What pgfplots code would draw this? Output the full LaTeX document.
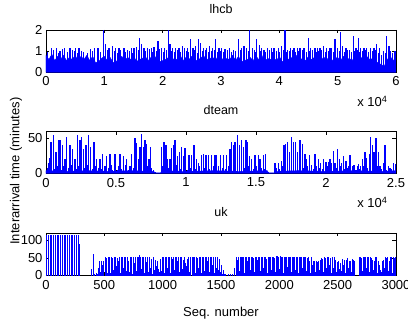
\documentclass[border=0pt]{standalone}
\usepackage{fontspec}
\setmainfont{Liberation Sans}
\usepackage{pgfplots}
\pgfplotsset{compat=1.18}
\begin{document}
\fontsize{13}{15}\selectfont
\begin{tikzpicture}
\useasboundingbox (0pt,0pt) rectangle (408pt,322pt);
\pgfplotsset{
  panel/.style={
    scale only axis, width=350pt, height=42.5pt, anchor=south west,
    xmin=0, axis line style={line width=0.6pt}, every tick/.style={black, line width=0.5pt},
    tick align=inside, major tick length=3.5pt, scaled ticks=false,
    tick label style={font=\fontsize{13}{15}\selectfont},
    yticklabel style={xshift=1pt},
    /pgf/number format/assume math mode=true,
    /pgf/number format/1000 sep={},
    title style={at={(0.5,1)}, anchor=base, yshift=10.5pt, font=\fontsize{12.5}{15}\selectfont},
    clip=true,
  },
  spk/.style={ycomb, blue, no markers},
}
% ---------------- lhcb ----------------
\begin{axis}[panel, at={(46pt,249.7pt)}, xmax=60000, ymin=0, ymax=2,
  ytick={0,1,2}, xtick={0,10000,20000,30000,40000,50000,60000},
  xticklabels={0,1,2,3,4,5,6}, title={lhcb}]
\addplot[fill=blue, draw=blue, line width=0.4pt] coordinates {
(0,0.8)(500,0.6)(1000,0.85)(1500,0.55)(2000,0.75)(2500,0.6)(3000,0.8)(3500,0.55)(4000,0.7)(4500,0.6)
(5000,0.8)(5500,0.55)(6000,0.75)(6500,0.6)(7000,0.8)(7500,0.55)(8000,0.75)(8500,0.45)(9000,0.5)(9500,0.65)
(10000,0.75)(10500,0.55)(11000,0.7)(11500,0.45)(12000,0.5)(12500,0.65)(13000,0.75)(13500,0.55)(14000,0.7)(14500,0.6)
(15000,0.8)(15500,0.5)(16000,0.6)(16500,0.65)(17000,0.75)(17500,0.55)(18000,0.7)(18500,0.6)(19000,0.8)(19500,0.5)
(20000,0.55)(20500,0.6)(21000,0.7)(21500,0.55)(22000,0.65)(22500,0.6)(23000,0.8)(23500,0.55)(24000,0.7)(24500,0.6)
(25000,0.75)(25500,0.5)(26000,0.6)(26500,0.65)(27000,0.8)(27500,0.55)(28000,0.7)(28500,0.6)(29000,0.75)(29500,0.5)
(30000,0.7)(30500,0.55)(31000,0.65)(31500,0.6)(32000,0.8)(32500,0.55)(33000,0.75)(33500,0.5)(34000,0.55)(34500,0.6)
(35000,0.7)(35500,0.55)(36000,0.75)(36500,0.6)(37000,0.8)(37500,0.5)(38000,0.65)(38500,0.6)(39000,0.7)(39500,0.55)
(40000,0.75)(40500,0.5)(41000,0.55)(41500,0.6)(42000,0.7)(42500,0.55)(43000,0.8)(43500,0.6)(44000,0.65)(44500,0.55)
(45000,0.75)(45500,0.6)(46000,0.7)(46500,0.55)(47000,0.8)(47500,0.6)(48000,0.75)(48500,0.5)(49000,0.55)(49500,0.65)
(50000,0.7)(50500,0.55)(51000,0.75)(51500,0.6)(52000,0.65)(52500,0.55)(53000,0.8)(53500,0.6)(54000,0.7)(54500,0.55)
(55000,0.75)(55500,0.6)(56000,0.65)(56500,0.5)(57000,0.45)(57500,0.35)(58000,0.3)(58500,0.6)(59000,0.75)(59500,0.55)
(60000,0.7)
} \closedcycle;
\addplot[spk, line width=1.1pt] coordinates {
(914,1.15)(1828,1.15)(2400,1.0)(3200,1.15)(4114,1.15)(4514,1.05)(5086,1.15)(5657,1.15)(6057,1.0)(7657,1.1)
(8343,1.15)(8914,1.15)(9828,2.0)(10228,1.35)(10800,1.15)(11371,1.25)(11943,1.15)(12514,1.15)(13371,1.15)(13943,1.05)
(14629,1.15)(15086,1.15)(15486,1.2)(16057,1.6)(16400,1.35)(16800,1.15)(17371,1.15)(18057,1.15)(18514,1.2)(19200,1.45)
(19771,1.15)(20343,1.15)(20971,2.0)(21257,1.35)(21714,1.15)(22229,1.15)(22800,1.15)(23371,1.25)(23771,1.15)(24229,1.15)
(24800,1.55)(25200,1.15)(25657,1.25)(26114,1.55)(26514,1.4)(26971,1.15)(27543,1.15)(28057,1.25)(28514,1.15)(29086,1.55)
(29657,1.15)(30115,1.15)(30686,1.1)(31429,1.15)(32115,1.05)(32972,1.55)(33543,1.15)(33943,1.25)(34400,1.15)(34857,2.0)
(35372,1.15)(36115,1.55)(36572,1.3)(36972,1.15)(37372,1.05)(37943,1.15)(38686,1.15)(39086,1.15)(39829,1.15)(40400,1.25)
(40972,2.0)(41429,1.05)(41943,1.15)(42514,1.15)(43086,1.15)(43543,1.15)(44229,1.15)(44972,1.6)(45372,1.15)(46115,1.15)
(46515,1.15)(46972,1.15)(47543,1.25)(48115,1.15)(48686,1.15)(48972,1.15)(49543,1.55)(49943,1.15)(50515,1.9)(50858,1.25)
(51429,1.15)(52000,1.05)(52686,1.7)(53143,1.15)(53543,1.6)(53943,1.15)(54515,1.15)(54972,1.15)(55658,1.15)(56229,1.15)
(56686,1.35)(57143,1.15)(57829,1.0)(58400,1.7)(58800,1.25)(59429,0.9)(59829,1.0)
};
\addplot[spk, line width=0.9pt] coordinates {
(300,0.95)(1350,1.05)(2100,0.9)(2800,1.1)(3650,0.95)(4800,1.0)(5350,0.9)(6500,0.95)(7100,0.9)(8000,1.0)
(9350,0.95)(10500,1.05)(11650,1.0)(12200,0.9)(12800,1.05)(13650,0.95)(14300,1.0)(14850,0.9)(15800,1.05)(17050,1.0)
(17700,1.1)(18300,0.95)(18850,1.0)(19500,1.1)(20050,0.95)(20650,1.05)(21500,1.0)(22000,0.95)(22500,1.05)(23050,0.95)
(24000,1.0)(24500,0.95)(25450,1.05)(25900,0.9)(26750,1.0)(27250,1.05)(27800,0.95)(28300,1.0)(28800,1.05)(29350,0.95)
(29900,1.0)(30400,0.95)(31050,1.05)(31750,0.95)(32450,1.0)(33250,1.05)(34100,0.95)(34650,1.0)(35650,1.05)(35900,0.95)
(36800,1.0)(37650,0.95)(38300,1.05)(38900,0.95)(39450,1.0)(40100,0.95)(40700,1.05)(41200,0.95)(41700,1.0)(42250,1.05)
(42800,0.95)(43300,1.0)(43900,1.05)(44600,0.95)(45100,1.0)(45700,1.05)(46300,0.95)(46750,1.0)(47250,1.05)(47850,0.95)
(48400,1.0)(49250,0.95)(49700,1.05)(50250,1.0)(51100,0.95)(51700,1.05)(52350,0.95)(52900,1.0)(53350,1.05)(53750,0.95)
(54250,1.0)(54750,1.05)(55300,0.95)(55950,1.0)(56450,1.05)(56950,0.9)(57450,0.8)(58150,0.9)(59100,1.0)(59650,0.95)
};
\end{axis}
\node[anchor=base east] at (392pt,215pt) {x 10\textsuperscript{4}};
% ---------------- dteam ----------------
\begin{axis}[panel, at={(46pt,148.5pt)}, xmax=25000, ymin=0, ymax=60,
  ytick={0,50}, xtick={0,5000,10000,15000,20000,25000},
  xticklabels={0,0.5,1,1.5,2,2.5}, title={dteam}]
\addplot[fill=blue, draw=blue, line width=0.4pt] coordinates {
(0,4)(1500,3)(3000,4)(4500,3)(6000,4)(7700,3)(7800,1)(8200,1)(8250,4)(10000,3)(12000,4)(14000,3)(15800,4)(15900,1)(16300,1)(16350,3)(18000,4)(20000,3)(22000,4)(24000,3)(25000,4)
} \closedcycle;
\addplot[spk, line width=1.3pt] coordinates {
(167,15)(286,22)(357,44)(524,55)(714,30)(881,48)(1000,47)(1190,40)(1357,20)(1476,52)
(1714,40)(1905,35)(2071,20)(2238,55)(2429,48)(2548,52)(2667,35)(2857,40)(3024,54)(3190,38)
(3381,15)(3429,45)(3619,20)(3857,20)(4048,28)(4214,10)(4333,25)(4571,28)(4762,5)(4929,27)
(5095,5)(5286,27)(5524,25)(5762,20)(6000,10)(6119,27)(6357,50)(6476,43)(6595,20)(6714,38)
(6833,56)(6952,38)(7071,48)(7190,42)(7357,20)(7476,38)(7667,5)(7786,2)
(8262,38)(8429,44)(8571,40)(8690,20)(8857,20)(8976,36)(9095,40)(9214,48)(9381,25)(9524,30)
(9690,38)(9810,25)(9929,36)(10095,5)(10214,26)(10405,26)(10571,40)(10762,20)(10881,15)(11119,26)
(11238,28)(11429,26)(11595,26)(11833,26)(12071,26)(12190,26)(12310,10)(12476,26)(12667,26)(12905,26)
(13143,35)(13262,44)(13381,40)(13500,45)(13667,55)(13810,40)(13976,48)(14095,38)(14286,48)(14381,45)
(14524,25)(14690,20)(14929,26)(15167,26)(15286,20)(15524,26)(15690,28)(15881,2)
(16357,15)(16595,15)(16833,18)(17000,40)(17119,42)(17238,44)(17381,30)(17548,52)(17667,44)(17833,45)
(17976,30)(18143,47)(18310,42)(18500,28)(18619,20)(18810,26)(18976,12)(19214,27)(19452,20)(19619,15)
(19810,20)(20000,16)(20167,16)(20286,20)(20405,15)(20524,32)(20643,15)(20810,35)(20952,20)(21119,15)
(21238,25)(21429,18)(21595,10)(21714,26)(21905,10)(22000,12)(22143,5)(22238,10)(22310,14)(22476,10)
(22619,20)(22786,30)(22905,22)(23095,28)(23190,51)(23310,40)(23429,30)(23571,50)(23738,30)(23857,10)
(24095,15)(24214,40)(24333,5)(24571,8)(24810,15)(24952,14)
};
\addplot[spk, line width=1pt] coordinates {
(100,8)(420,12)(620,6)(800,10)(1100,5)(1280,10)(1600,8)(1800,12)(2150,6)(2330,10)
(2750,8)(2950,12)(3300,6)(3520,10)(3750,8)(3950,6)(4450,8)(4650,12)(5200,10)(5400,6)
(5650,12)(5900,5)(6250,8)(7250,10)(7570,8)(8350,10)(8780,8)(9300,12)(9600,6)(10000,10)
(10300,8)(10700,6)(11000,10)(11330,8)(11700,6)(11950,10)(12600,8)(12800,6)(13050,10)(14200,8)
(14450,10)(14800,6)(15050,10)(15400,8)(15600,6)(16480,8)(16700,6)(16920,10)(18400,8)(18700,10)
(19100,6)(19350,10)(19550,8)(19720,6)(20100,10)(20720,8)(21030,10)(21330,6)(21520,8)(22400,6)
(22700,10)(23000,8)(23650,10)(24000,6)(24450,10)(24700,6)
};
\end{axis}
\node[anchor=base east] at (392pt,114pt) {x 10\textsuperscript{4}};
% ---------------- uk ----------------
\begin{axis}[panel, at={(46pt,46.5pt)}, xmax=3000, ymin=0, ymax=120,
  ytick={0,50,100}, xtick={0,500,1000,1500,2000,2500,3000}, title={uk}]
\addplot[spk, line width=1pt] coordinates {
(5,115)(20,115)(35,115)(50,115)(65,115)(80,115)(95,115)(110,115)(125,115)(140,115)
(155,115)(170,115)(185,115)(200,115)(215,115)(230,115)(245,115)(260,115)(275,115)(290,90)
};
\addplot[spk, line width=0.6pt] coordinates {
(390,18)(405,60)(418,3)(430,8)(442,5)(452,20)(460,42)(468,10)(476,42)(486,30)
(495,42)(505,52)(512,12)(520,50)(528,8)(536,52)(545,52)(553,6)(560,52)(570,50)
(578,15)(586,52)(595,52)(603,28)(612,50)(620,40)(630,52)(638,8)(646,52)(655,52)
(663,22)(672,52)(680,52)(690,12)(698,52)(708,40)(715,10)(722,52)(732,52)(740,5)
(748,52)(756,35)(765,52)(772,12)(780,52)(788,52)(796,8)(803,58)(812,52)(820,18)
(828,52)(838,52)(846,6)(853,52)(862,38)(870,52)(878,10)(886,52)(895,20)(905,48)
(912,5)(920,52)(930,15)(940,45)(948,28)(956,40)(965,18)(972,10)(980,48)(990,12)
(998,52)(1006,52)(1014,8)(1022,52)(1030,52)(1040,20)(1048,52)(1056,52)(1064,6)(1072,52)
(1080,48)(1090,52)(1098,15)(1106,52)(1115,52)(1124,40)(1132,52)(1140,10)(1148,52)(1157,52)
(1165,18)(1174,45)(1182,52)(1190,35)(1198,8)(1206,28)(1215,48)(1224,52)(1232,10)(1240,52)
(1250,52)(1258,15)(1266,52)(1275,52)(1283,6)(1292,52)(1300,50)(1308,20)(1316,52)(1325,52)
(1334,8)(1342,52)(1350,52)(1360,12)(1368,52)(1376,52)(1385,40)(1393,52)(1402,10)(1410,52)
(1418,52)(1426,30)(1435,52)(1444,6)(1452,52)(1460,20)(1468,52)(1476,15)(1484,48)(1492,10)
(1500,30)(1508,5)(1516,15)(1525,3)(1540,3)(1560,3)(1580,3)(1600,3)(1618,20)(1630,52)
(1638,45)(1646,52)(1655,12)(1662,52)(1670,52)(1678,25)(1686,52)(1695,52)(1703,8)(1710,52)
(1718,52)(1726,40)(1735,52)(1743,52)(1752,15)(1760,52)(1768,52)(1776,50)(1785,10)(1793,52)
(1800,52)(1808,45)(1816,52)(1825,52)(1833,12)(1842,52)(1850,52)(1858,52)(1866,20)(1875,52)
(1883,52)(1892,48)(1900,8)(1908,52)(1916,52)(1925,52)(1933,15)(1942,52)(1950,52)(1958,50)
(1966,10)(1975,54)(1983,54)(1992,52)(2000,18)(2008,54)(2016,52)(2025,52)(2033,8)(2042,52)
(2050,52)(2058,52)(2066,25)(2075,52)(2083,52)(2092,52)(2100,10)(2108,52)(2116,52)(2125,52)
(2133,15)(2142,52)(2150,52)(2158,52)(2166,8)(2175,52)(2183,52)(2192,52)(2200,20)(2208,52)
(2216,52)(2225,52)(2233,12)(2242,50)(2250,52)(2258,40)(2266,8)(2275,52)(2283,30)(2292,40)
(2300,40)(2308,10)(2316,40)(2325,38)(2333,40)(2342,15)(2350,45)(2358,50)(2366,48)(2375,10)
(2383,52)(2392,50)(2400,20)(2408,52)(2416,52)(2425,30)(2433,50)(2442,8)(2450,52)(2458,40)
(2466,20)(2475,52)(2483,45)(2492,10)(2500,38)(2508,42)(2516,18)(2525,35)(2533,12)(2542,48)
(2550,30)(2558,45)(2566,8)(2575,45)(2583,50)(2592,20)(2600,42)(2608,40)(2616,10)(2625,48)
(2633,45)(2640,40)(2683,52)(2692,52)(2700,50)(2708,12)(2716,52)(2725,52)(2733,52)(2742,20)
(2750,52)(2758,52)(2766,52)(2775,10)(2783,52)(2792,50)(2800,45)(2808,15)(2816,40)(2825,52)
(2833,52)(2842,8)(2850,40)(2858,30)(2866,15)(2875,10)(2883,40)(2892,45)(2900,20)(2908,52)
(2916,50)(2925,52)(2933,12)(2942,40)(2950,52)(2958,52)(2966,8)(2975,52)(2983,50)(2992,52)
};
\end{axis}
\node at (221pt,9pt) {Seq. number};
\node[rotate=90] at (16pt,151pt) {Interarrival time (minutes)};
\end{tikzpicture}
\end{document}
